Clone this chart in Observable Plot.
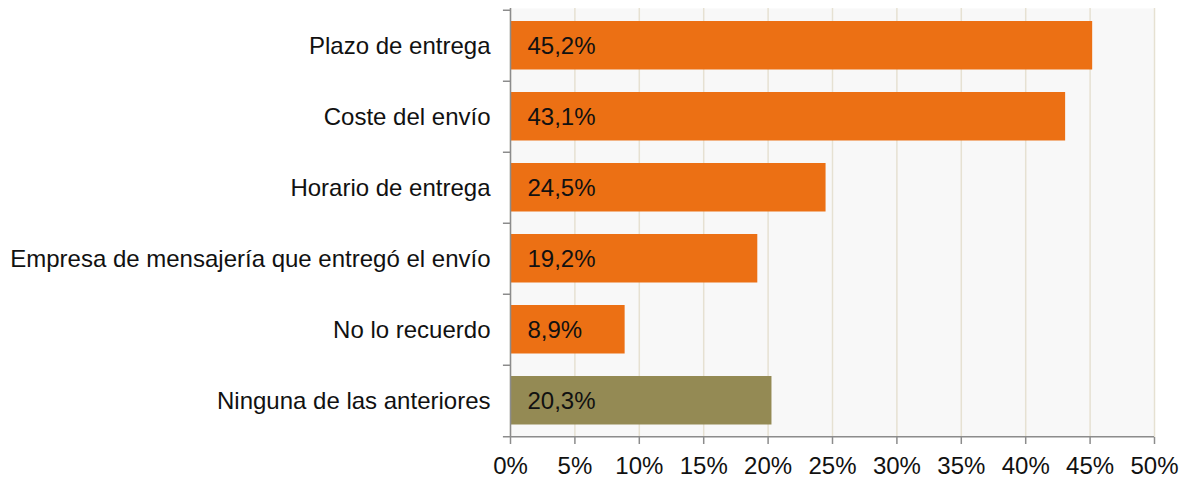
<!DOCTYPE html>
<html>
<head>
<meta charset="utf-8">
<script src="https://cdn.jsdelivr.net/npm/d3@7"></script>
<script src="https://cdn.jsdelivr.net/npm/@observablehq/plot@0.6"></script>
<style>
  html, body { margin: 0; padding: 0; background: #fff; }
  svg { font-family: "Liberation Sans", Arial, sans-serif; }
</style>
</head>
<body>
<div id="chart"></div>
<script>
const categories = [
  "Plazo de entrega",
  "Coste del envío",
  "Horario de entrega",
  "Empresa de mensajería que entregó el envío",
  "No lo recuerdo",
  "Ninguna de las anteriores"
];
const values = [45.2, 43.1, 24.5, 19.2, 8.9, 20.3];
const barColors = ["#EC7014", "#EC7014", "#EC7014", "#EC7014", "#EC7014", "#948A54"];
const xTicks = [0, 5, 10, 15, 20, 25, 30, 35, 40, 45, 50];

const data = categories.map((c, i) => ({category: c, value: values[i], color: barColors[i]}));
const fmt = v => v.toFixed(1).replace(".", ",") + "%";

const W = 1187, H = 479;
const mTop = 8, mBottom = 42;
const band = (H - mTop - mBottom) / categories.length;
const FS = 24;

const chart = Plot.plot({
  width: W,
  height: H,
  marginLeft: 510,
  marginRight: 33,
  marginTop: mTop,
  marginBottom: mBottom,
  style: {fontFamily: "'Liberation Sans', Arial, sans-serif", fontSize: FS + "px", color: "#000", background: "#fff"},
  x: {domain: [0, 50]},
  y: {domain: categories, padding: 0},
  marks: [
    Plot.frame({fill: "#f8f8f8", stroke: null}),
    Plot.gridX(xTicks, {stroke: "#e6e1d2", strokeOpacity: 1, strokeWidth: 1.5}),
    Plot.barX(data, {x: "value", y: "category", fill: "color", insetTop: 11, insetBottom: 11.5}),
    Plot.text(data, {x: 0, y: "category", text: d => fmt(d.value), textAnchor: "start", dx: 17, fill: "#111", fontSize: FS}),
    // y axis line
    Plot.ruleX([0], {stroke: "#8c8c8c", strokeWidth: 1.5}),
    // category boundary ticks on the y axis
    Plot.ruleY(categories, {y: d => d, x1: -0.55, x2: 0, dy: -band / 2, stroke: "#8c8c8c", strokeWidth: 1.5}),
    // bottom x axis line
    Plot.ruleY([categories[categories.length - 1]], {y: d => d, x1: -0.55, x2: 50, dy: band / 2, stroke: "#8c8c8c", strokeWidth: 1.5}),
    Plot.axisY({tickSize: 0, tickPadding: 20, fontSize: FS, fill: "#111", label: null}),
    Plot.axisX(xTicks, {tickSize: 7, tickPadding: 12, stroke: "#8c8c8c", strokeWidth: 1.5, tickFormat: d => d + "%", fontSize: FS, fill: "#111", label: null})
  ]
});
document.getElementById("chart").appendChild(chart);
</script>
</body>
</html>
